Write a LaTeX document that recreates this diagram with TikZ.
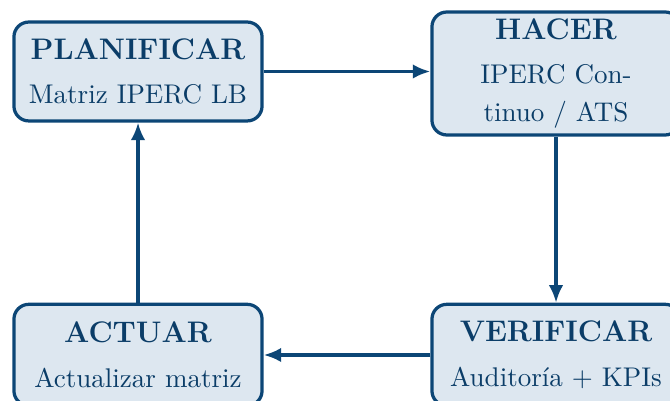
\documentclass[tikz,border=0pt]{standalone}
\usetikzlibrary{arrows.meta}
\definecolor{pdcaline}{HTML}{0C4676}
\definecolor{pdcafill}{HTML}{DDE7F0}
\definecolor{pdcatext}{HTML}{0B3D68}
\tikzset{
  pdcabox/.style={draw=pdcaline, fill=pdcafill, line width=1.2pt, rounded corners=5.5pt,
    minimum width=91.8pt, inner sep=0pt, align=center, text=pdcatext,
    font=\fontsize{10}{14}\selectfont},
  pdcaarrow/.style={draw=pdcaline, line width=1.2pt, -{Latex[length=6.5pt,width=5.4pt]}}
}
\newcommand{\pdcatitle}[1]{{\fontsize{11}{14}\selectfont\bfseries #1}}
\begin{document}
\begin{tikzpicture}[x=0.37pt,y=-0.37pt]
\useasboundingbox (0,0) rectangle (670,401);
\node[pdcabox, minimum height=36.6pt] (plan) at (138,71.5) {\pdcatitle{PLANIFICAR}\\[2.5pt]Matriz IPERC LB};
\node[pdcabox, minimum height=45.5pt] (hacer) at (556,73.5) {\pdcatitle{HACER}\\[2.5pt]IPERC Con-\\tinuo / ATS};
\node[pdcabox, minimum height=37.5pt] (verif) at (556,355) {\pdcatitle{VERIFICAR}\\[2.5pt]Auditoría + KPIs};
\node[pdcabox, minimum height=37.5pt] (actuar) at (138,355) {\pdcatitle{ACTUAR}\\[2.5pt]Actualizar matriz};
\draw[pdcaarrow] (plan.east) -- (plan.east -| hacer.west);
\draw[pdcaarrow] (hacer.south) -- (verif.north);
\draw[pdcaarrow] (verif.west) -- (actuar.east);
\draw[pdcaarrow] (actuar.north) -- (plan.south);
\end{tikzpicture}
\end{document}
